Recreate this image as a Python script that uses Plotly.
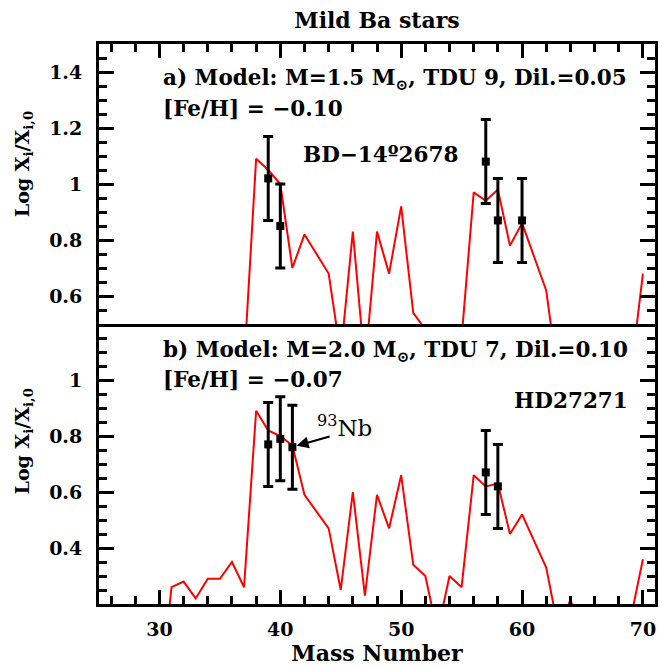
import plotly.graph_objects as go

# model curves (mass number vs log enhancement)
mass_a = [30, 31, 32, 33, 34, 35, 36, 37, 38, 39, 40, 41, 42, 44, 45, 46, 47, 48, 49, 50,
          51, 52, 53, 54, 55, 56, 57, 58, 59, 60, 62, 63, 69, 70]
model_a = [0.0, 0.36, 0.38, 0.32, 0.39, 0.39, 0.45, 0.35, 1.09, 1.05, 1.00, 0.70, 0.82, 0.68,
           0.39, 0.83, 0.35, 0.83, 0.68, 0.92, 0.54, 0.48, 0.30, 0.40, 0.45, 0.97, 0.94, 0.98,
           0.78, 0.86, 0.62, 0.30, 0.32, 0.68]

mass_b = [30, 31, 32, 33, 34, 35, 36, 37, 38, 39, 40, 41, 42, 44, 45, 46, 47, 48, 49, 50,
          51, 52, 53, 54, 55, 56, 57, 58, 59, 60, 62, 63, 64, 65, 69, 70]
model_b = [-0.14, 0.26, 0.28, 0.22, 0.29, 0.29, 0.35, 0.26, 0.89, 0.82, 0.80, 0.766, 0.59, 0.47,
           0.25, 0.60, 0.23, 0.59, 0.47, 0.66, 0.34, 0.30, 0.10, 0.30, 0.26, 0.66, 0.62, 0.63,
           0.45, 0.52, 0.33, 0.11, 0.215, 0.10, 0.15, 0.36]

# observations
obs_mass_a = [39, 40, 57, 58, 60]
obs_a = [1.02, 0.85, 1.08, 0.87, 0.87]
err_a = [0.15, 0.15, 0.15, 0.15, 0.15]

obs_mass_b = [39, 40, 41, 57, 58]
obs_b = [0.77, 0.79, 0.76, 0.67, 0.62]
err_b = [0.15, 0.15, 0.15, 0.15, 0.15]

x_ticks = [30, 40, 50, 60, 70]
y_ticks_a = [0.6, 0.8, 1.0, 1.2, 1.4]
y_labels_a = ["0.6", "0.8", "1", "1.2", "1.4"]
y_ticks_b = [0.4, 0.6, 0.8, 1.0]
y_labels_b = ["0.4", "0.6", "0.8", "1"]

FONT = "DejaVu Serif"
RED = "#ff0000"

fig = go.Figure()

fig.add_trace(go.Scatter(x=mass_a, y=model_a, mode="lines", xaxis="x2", yaxis="y2",
                         line=dict(color=RED, width=2), showlegend=False))
fig.add_trace(go.Scatter(x=obs_mass_a, y=obs_a, mode="markers", xaxis="x2", yaxis="y2",
                         marker=dict(symbol="square", size=8, color="black"),
                         error_y=dict(type="data", array=err_a, color="black", thickness=3, width=5),
                         showlegend=False))

fig.add_trace(go.Scatter(x=mass_b, y=model_b, mode="lines", xaxis="x", yaxis="y",
                         line=dict(color=RED, width=2), showlegend=False))
fig.add_trace(go.Scatter(x=obs_mass_b, y=obs_b, mode="markers", xaxis="x", yaxis="y",
                         marker=dict(symbol="square", size=8, color="black"),
                         error_y=dict(type="data", array=err_b, color="black", thickness=3, width=5),
                         showlegend=False))

tick_font = dict(family=FONT, size=19, color="black", weight="bold")
minor_x = dict(dtick=2, tick0=0, ticks="inside", ticklen=8, tickwidth=2.5, tickcolor="black")
minor_y = dict(dtick=0.05, tick0=0, ticks="inside", ticklen=8, tickwidth=2.5, tickcolor="black")

common_x = dict(range=[25, 71], tickmode="array", tickvals=x_ticks, ticks="inside", ticklen=14,
                tickwidth=2.5, tickcolor="black", showline=True, linewidth=3, linecolor="black",
                showgrid=False, zeroline=False, minor=minor_x, tickfont=tick_font)
common_y = dict(ticks="inside", ticklen=15, tickwidth=2.5, tickcolor="black", showline=True,
                linewidth=3, linecolor="black", mirror="ticks", showgrid=False, zeroline=False,
                minor=minor_y, tickfont=tick_font, ticklabelstandoff=10)

fig.update_layout(
    width=660, height=667,
    margin=dict(l=99, r=2, t=44, b=63),
    paper_bgcolor="white", plot_bgcolor="white",
    title=dict(text="Mild Ba stars", x=0.5, xref="paper", y=1 - 20 / 667, yanchor="middle",
               font=dict(family=FONT, size=22, color="black", weight="bold")),
    xaxis=dict(common_x, domain=[0, 1], anchor="y", side="bottom", mirror=False,
               ticklabelstandoff=6,
               title=dict(text="Mass Number", standoff=4,
                          font=dict(family=FONT, size=22, color="black", weight="bold"))),
    xaxis2=dict(common_x, domain=[0, 1], anchor="y2", side="top", showticklabels=False,
                mirror=True, matches="x"),
    yaxis=dict(common_y, domain=[0, 0.5], anchor="x", range=[0.2, 1.2],
               tickmode="array", tickvals=y_ticks_b, ticktext=y_labels_b),
    yaxis2=dict(common_y, domain=[0.5, 1], anchor="x2", range=[0.5, 1.5],
                tickmode="array", tickvals=y_ticks_a, ticktext=y_labels_a),
)

txt = dict(family=FONT, size=21.5, color="black", weight="bold")
notes = [
    ("x2", "y2", 30.1, 1.375, "a) Model: M=1.5 M<sub>⊙</sub>, TDU 9, Dil.=0.05"),
    ("x2", "y2", 30.1, 1.268, "[Fe/H] = −0.10"),
    ("x2", "y2", 41.7, 1.107, "BD−14º2678"),
    ("x", "y", 30.1, 1.103, "b) Model: M=2.0 M<sub>⊙</sub>, TDU 7, Dil.=0.10"),
    ("x", "y", 30.1, 1.003, "[Fe/H] = −0.07"),
    ("x", "y", 59.2, 0.928, "HD27271"),
]
for xr, yr, xv, yv, t in notes:
    fig.add_annotation(xref=xr, yref=yr, x=xv, y=yv, text=t, showarrow=False,
                       xanchor="left", yanchor="middle", font=txt)

# 93Nb label with arrow
fig.add_annotation(xref="x", yref="y", x=45.3, y=0.835, text="<sup>93</sup>Nb", showarrow=False,
                   font=dict(family=FONT, size=23, color="black"))
fig.add_annotation(xref="x", yref="y", x=41.35, y=0.765, axref="x", ayref="y", ax=44.2, ay=0.80,
                   text="", showarrow=True, arrowhead=2, arrowsize=1.2, arrowwidth=2,
                   arrowcolor="black")

# y-axis titles
ylab = "Log X<sub>i</sub>/X<sub>i,0</sub>"
for yv in [0.786, 0.291]:
    fig.add_annotation(xref="paper", yref="paper", x=-0.136, y=yv, text=ylab, showarrow=False,
                       textangle=-90, xanchor="center", yanchor="middle",
                       font=dict(family=FONT, size=19, color="black", weight="bold"))

fig.write_html("out.html", config={"displayModeBar": False},
               post_script="document.body.style.margin='0';")
